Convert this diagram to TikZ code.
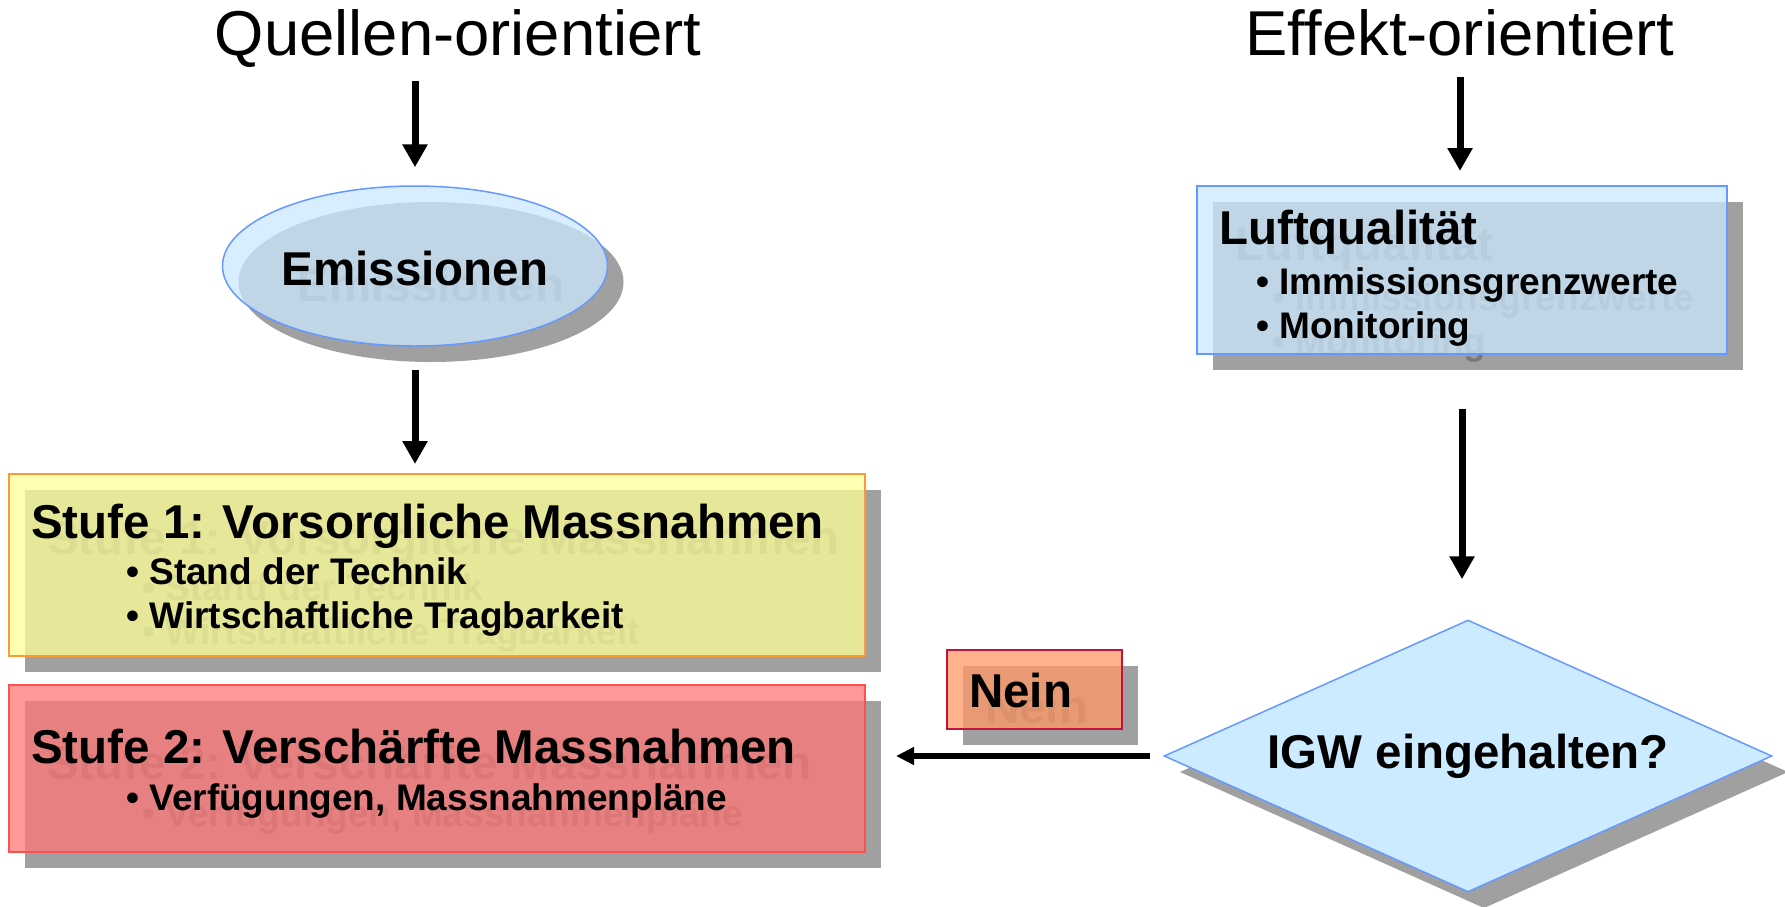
\documentclass[tikz,border=0pt]{standalone}
\usepackage{fontspec}
\setmainfont{Liberation Sans}
\usetikzlibrary{shapes.geometric,arrows.meta}

\definecolor{schatten}{HTML}{A0A0A0}
\definecolor{geist}{HTML}{7A7A7A}
\definecolor{blaufill}{HTML}{CCE9FF}
\definecolor{blaurand}{HTML}{6699FF}
\definecolor{rautefill}{HTML}{CCEBFF}
\definecolor{gelbfill}{HTML}{FFFF99}
\definecolor{gelbrand}{HTML}{FF9933}
\definecolor{rotfill}{HTML}{FF7777}
\definecolor{rotrand}{HTML}{FF5050}
\definecolor{neinfill}{HTML}{FF9966}
\definecolor{neinrand}{HTML}{C0143C}

\tikzset{
  titel/.style={font=\fontsize{63.4}{70}\selectfont, inner sep=0pt, anchor=base},
  kopf/.style={font=\bfseries\fontsize{47.5}{52}\selectfont, inner sep=0pt, anchor=base west},
  punkt/.style={font=\bfseries\fontsize{37}{42}\selectfont, inner sep=0pt, anchor=base west},
  kasten/.style={rectangle, line width=2pt, fill opacity=0.75, inner sep=0pt},
  pfeil/.style={line width=7pt, -{Triangle[width=24pt,length=23pt]}},
  pfeilh/.style={line width=6pt, -{Triangle[width=17pt,length=18pt]}}
}

% Texte in den Kaesten (einmal als Schatten, einmal schwarz)
\newcommand{\kastentexte}{
  \node[kopf, anchor=base] (temis) at (415,285) {Emissionen};
  \node[kopf] (tluft) at (1219,244) {Luftqualität};
  \node[punkt] (tluft1) at (1256,294) {• Immissionsgrenzwerte};
  \node[punkt] (tluft2) at (1256,338) {• Monitoring};
  \node[kopf] (tstufe1) at (31,538) {Stufe 1: Vorsorgliche Massnahmen};
  \node[punkt] (tstufe1a) at (126,584) {• Stand der Technik};
  \node[punkt] (tstufe1b) at (126,628) {• Wirtschaftliche Tragbarkeit};
  \node[kopf] (tstufe2) at (31,763) {Stufe 2: Verschärfte Massnahmen};
  \node[punkt] (tstufe2a) at (126,810) {• Verfügungen, Massnahmenpläne};
  \node[kopf] (tnein) at (969,707) {Nein};
}

\begin{document}
\begin{tikzpicture}[x=1pt,y=-1pt]
    \useasboundingbox (0,0) rectangle (1785,906);
    \fill[white] (0,0) rectangle (1785,906);

    %Schatten
    \fill[schatten] (431,282) ellipse [x radius=192.5pt, y radius=80pt];
    \fill[schatten] (1213,202) rectangle (1743,370);
    \fill[schatten] (25,490) rectangle (881,672);
    \fill[schatten] (25,701) rectangle (881,868);
    \fill[schatten] (963,666) rectangle (1138,745);
    \fill[schatten] (1180,772) -- (1484,636) -- (1788,772) -- (1484,908) -- cycle;
    \begin{scope}[shift={(16,16)}, every node/.append style={text=geist}]
        \kastentexte
    \end{scope}

    %Kaesten
    \node[ellipse, draw=blaurand, line width=1.5pt, fill=blaufill, fill opacity=0.75,
          minimum width=385pt, minimum height=160pt, inner sep=0pt] (emis) at (415,266) {};
    \node[kasten, draw=blaurand, fill=blaufill, minimum width=530pt, minimum height=168pt] (luft) at (1462,270) {};
    \node[kasten, draw=gelbrand, fill=gelbfill, minimum width=856pt, minimum height=182pt] (stufe1) at (437,565) {};
    \node[kasten, draw=rotrand, fill=rotfill, minimum width=856pt, minimum height=167pt] (stufe2) at (437,768.5) {};
    \node[kasten, draw=neinrand, fill=neinfill, minimum width=175pt, minimum height=79pt] (nein) at (1034.5,689.5) {};
    \node[diamond, draw=blaurand, line width=1.5pt, fill=rautefill, aspect=2.235,
          minimum width=608pt, minimum height=272pt, inner sep=0pt,
          font=\bfseries\fontsize{47.5}{52}\selectfont] (igw) at (1468,756) {IGW eingehalten?};

    %Texte
    \kastentexte
    \node[titel] (titelQ) at (458,55) {Quellen-orientiert};
    \node[titel] (titelE) at (1460,55) {Effekt-orientiert};

    %Pfeile
    \draw[pfeil, shorten <=14pt, shorten >=18pt] (titelQ.south -| emis.north) -- (emis.north);
    \draw[pfeil, shorten <=23pt, shorten >=9pt] (emis.south) -- (emis.south |- stufe1.north);
    \draw[pfeil, shorten <=21pt, shorten >=14pt] (titelE.south) -- (titelE.south |- luft.north);
    \draw[pfeil, shorten <=54pt, shorten >=40pt] (luft.south) -- (luft.south |- igw.north);
    \draw[pfeilh, shorten <=13pt, shorten >=30pt] (igw.west) -- (igw.west -| stufe2.east);
\end{tikzpicture}
\end{document}
